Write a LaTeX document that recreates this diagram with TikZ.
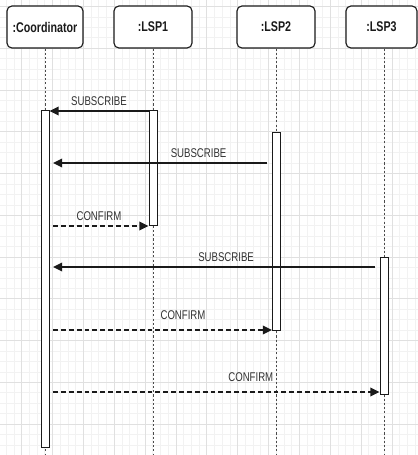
\documentclass[tikz,border=0pt]{standalone}
\usepackage{fontspec}
\setmainfont[FakeStretch=0.76]{Liberation Sans}
\usetikzlibrary{arrows.meta,positioning,calc,backgrounds}
\definecolor{ink}{HTML}{1A1A1A}
\definecolor{ink2}{HTML}{333333}
\definecolor{life}{HTML}{4A4A4A}
\definecolor{gridmaj}{HTML}{E0E0E0}
\definecolor{gridmin}{HTML}{F2F2F2}
\tikzset{
  >={Triangle[length=2.3mm,width=2.1mm]},
  head/.style={draw=ink, fill=white, rounded corners=3.5pt, line width=0.8pt,
    minimum height=1.05cm, inner sep=0pt, text=ink,
    font=\bfseries\fontsize{10}{12}\selectfont},
  bar/.style={draw=ink, fill=white, line width=0.7pt, minimum width=2mm,
    inner sep=0pt, anchor=north},
  life/.style={draw=life, line width=0.7pt, dash pattern=on 1.5pt off 1.5pt},
  call/.style={->, draw=ink, line width=1.5pt},
  reply/.style={->, draw=ink, line width=1.5pt, dash pattern=on 3.5pt off 2.1pt},
  msg/.style={font=\fontsize{9}{11}\selectfont, text=ink2, inner sep=1pt},
}

\begin{document}
\begin{tikzpicture}[x=0.025cm, y=-0.025cm]
  \useasboundingbox (0,0) rectangle (418,455);
  % participants
  \node[head, minimum width=1.9cm] (coord) at (45,27) {:Coordinator};
  \node[head, minimum width=1.95cm] (lsp1) at (153,27) {:LSP1};
  \node[head, minimum width=1.95cm] (lsp2) at (276,27) {:LSP2};
  \node[head, minimum width=1.775cm] (lsp3) at (381.5,27) {:LSP3};
  % activations
  \node[bar, minimum height=8.425cm] (actC) at (45,110) {};
  \node[bar, minimum height=2.875cm] (act1) at (153,110) {};
  \node[bar, minimum height=4.95cm] (act2) at (276.5,132) {};
  \node[bar, minimum height=3.425cm] (act3) at (384,257) {};
  % message rows
  \coordinate (bot) at (0,455);
  \foreach \k/\y in {1/111,2/163,3/226,4/267,5/330,6/392}
    \coordinate (m\k) at (0,\y);
  % messages
  \draw[call] (act1.west |- m1) -- (actC.east |- m1)
    node[msg, pos=0.5, above=2pt] {SUBSCRIBE};
  \draw[call, shorten <=3.5pt, shorten >=2.5pt] (act2.west |- m2) -- (actC.east |- m2)
    node[msg, pos=0.33, above=2pt] {SUBSCRIBE};
  \draw[reply, shorten <=2.5pt] (actC.east |- m3) -- (act1.west |- m3)
    node[msg, pos=0.5, above=2pt] {CONFIRM};
  \draw[call, shorten <=3pt, shorten >=2.5pt] (act3.west |- m4) -- (actC.east |- m4)
    node[msg, pos=0.465, above=2pt] {SUBSCRIBE};
  \draw[reply, shorten <=2.5pt] (actC.east |- m5) -- (act2.west |- m5)
    node[msg, pos=0.6, above=5.4pt] {CONFIRM};
  \draw[reply, shorten <=2.5pt] (actC.east |- m6) -- (act3.west |- m6)
    node[msg, pos=0.61, above=5.4pt] {CONFIRM};
  % grid and lifelines
  \begin{scope}[on background layer]
    \fill[white] (0,0) rectangle (418,455);
    \clip (0,0) rectangle (418,455);
    \foreach \i in {-3,...,54}
      \draw[gridmin, line width=0.5pt] ({21.6+7.715*\i},0) -- ++(0,455);
    \foreach \j in {-1,...,43}
      \draw[gridmin, line width=0.5pt] (0,{6.5+10.44*\j}) -- ++(418,0);
    \foreach \i in {-1,...,13}
      \draw[gridmaj, line width=0.5pt] ({21.6+30.86*\i},0) -- ++(0,455);
    \foreach \j in {0,...,11}
      \draw[gridmaj, line width=0.5pt] (0,{6.5+41.75*\j}) -- ++(418,0);
    \draw[life] (actC |- coord.south) -- (actC |- bot);
    \draw[life] (act1 |- lsp1.south) -- (act1 |- bot);
    \draw[life] (act2 |- lsp2.south) -- (act2 |- bot);
    \draw[life] (act3 |- lsp3.south) -- (act3 |- bot);
  \end{scope}
\end{tikzpicture}
\end{document}
